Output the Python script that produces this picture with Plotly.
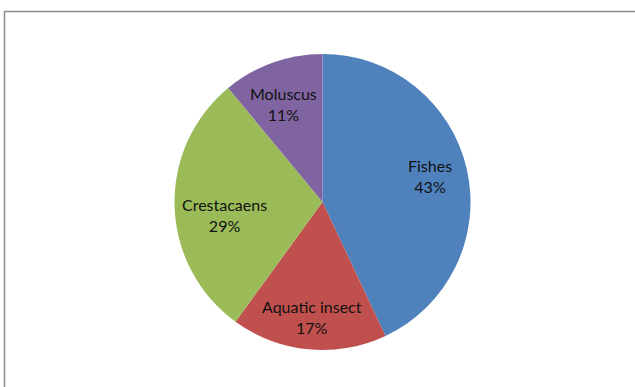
import math
import plotly.graph_objects as go

labels = ["Fishes", "Aquatic insect", "Crestacaens", "Moluscus"]
values = [43, 17, 29, 11]
colors = ["#4F81BD", "#C0504D", "#9BBB59", "#8064A2"]
label_radius = [0.75, 0.78, 0.665, 0.71]   # fraction of pie radius for label placement
label_turn = [-1.0, 0.0, -5.5, -2.0]       # small angular nudge of label (degrees)

W, H = 635, 387
cx, cy, r = 322.5, 202, 148

fig = go.Figure(go.Pie(
    labels=labels,
    values=values,
    sort=False,
    direction="clockwise",
    rotation=0,
    marker=dict(colors=colors, line=dict(width=0)),
    textinfo="none",
    showlegend=False,
    hoverinfo="label+percent",
    domain=dict(x=[(cx - r) / W, (cx + r) / W], y=[(H - cy - r) / H, (H - cy + r) / H]),
))

total = sum(values)
annotations = []
cum = 0
for lab, v, f, t in zip(labels, values, label_radius, label_turn):
    mid = (cum + v / 2) / total * 2 * math.pi + math.radians(t)
    cum += v
    px = cx + f * r * math.sin(mid)
    py = cy - f * r * math.cos(mid)
    annotations.append(dict(
        x=px / W, y=(H - py) / H, xref="paper", yref="paper",
        text=f"{lab}<br>{round(v / total * 100)}%",
        showarrow=False, xanchor="center", yanchor="middle", align="center",
        font=dict(family="Lato, Noto Sans, sans-serif", size=16, color="#111111"),
    ))

fig.update_layout(
    width=W, height=H,
    margin=dict(l=0, r=0, t=0, b=0),
    paper_bgcolor="white",
    plot_bgcolor="white",
    annotations=annotations,
    shapes=[dict(type="rect", xref="paper", yref="paper",
                 x0=4.5 / W, x1=1.05, y0=-0.05, y1=1 - 11.5 / H,
                 line=dict(color="#8C8C8C", width=1.5), fillcolor="rgba(0,0,0,0)")],
)

fig.write_html("out.html")
